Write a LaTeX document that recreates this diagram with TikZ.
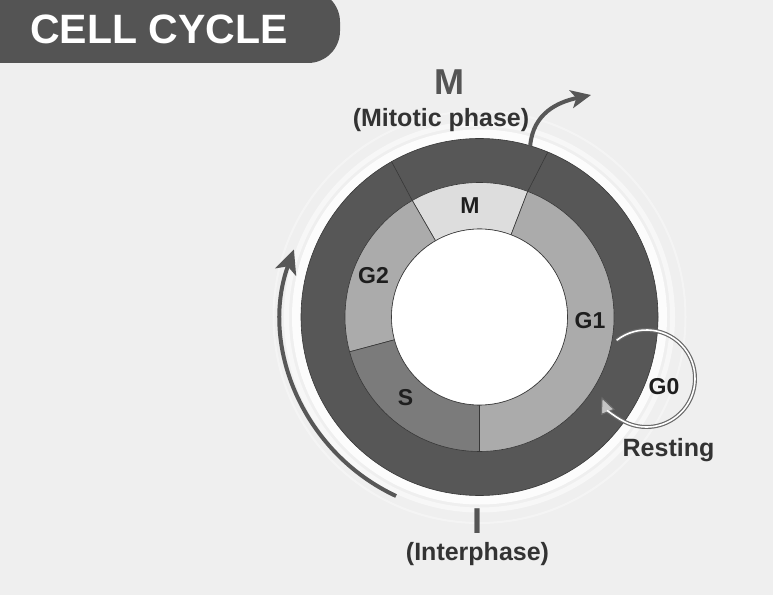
\documentclass[tikz,border=0pt]{standalone}
\usepackage{fontspec}
\setmainfont{Liberation Sans}
\usetikzlibrary{arrows.meta,calc}
\definecolor{bg}{HTML}{EFEFEF}
\definecolor{ringdark}{HTML}{575757}
\definecolor{bannerc}{HTML}{545454}
\definecolor{segG}{HTML}{ABABAB}
\definecolor{segM}{HTML}{DDDDDD}
\definecolor{segS}{HTML}{7B7B7B}
\definecolor{edge}{HTML}{383838}
\definecolor{txt}{HTML}{1E1E1E}
\definecolor{midtxt}{HTML}{333333}
\definecolor{bigtxt}{HTML}{555555}
\definecolor{loopc}{HTML}{6A6A6A}
\definecolor{loopfill}{HTML}{C4C4C4}
\newcommand\annseg[5]{%
  \path[fill=#1, draw=edge, line width=0.6pt]
    ($(C)+(#2:#4)$) arc[start angle=#2, end angle=#3, radius=#4]
    -- ($(C)+(#3:#5)$) arc[start angle=#3, end angle=#2, radius=#5] -- cycle;}
\tikzset{
  seglabel/.style={inner sep=0pt, text=txt, font=\fontsize{23}{23}\selectfont\bfseries},
  midlabel/.style={inner sep=0pt, anchor=base, text=midtxt, font=\fontsize{25}{25}\selectfont\bfseries},
  biglabel/.style={inner sep=0pt, anchor=base, text=bigtxt, font=\fontsize{36}{36}\selectfont\bfseries},
  arrowline/.style={draw=ringdark, line width=4pt},
}
\begin{document}
\begin{tikzpicture}[x=1pt,y=1pt]
\useasboundingbox (0,0) rectangle (773,595);
\fill[bg] (0,0) rectangle (773,595);
% banner
\fill[bannerc, rounded corners=32pt] (-40,532) rectangle (340,605);
\node[inner sep=0pt, anchor=base, text=white, font=\fontsize{41}{41}\selectfont\bfseries] (title) at (159,551) {CELL CYCLE};

\coordinate (C) at (479.5,278);
% halo
\draw[white, opacity=0.85, line width=9pt] (C) circle[radius=183pt];
\draw[white, opacity=0.5, line width=5pt] (C) circle[radius=193pt];
\draw[white, opacity=0.35, line width=2pt] (C) circle[radius=206pt];

% outer ring
\fill[ringdark] (C) circle[radius=178.5pt];
\draw[edge, line width=0.6pt] (C) circle[radius=178.5pt];
% middle ring segments
\annseg{segM}{69}{120}{88pt}{134.5pt}
\annseg{segG}{120}{195}{88pt}{134.5pt}
\annseg{segS}{195}{270}{88pt}{134.5pt}
\annseg{segG}{270}{429}{88pt}{134.5pt}
% outer ring dividers
\draw[edge, line width=0.6pt] ($(C)+(69:134.5pt)$) -- ($(C)+(67.5:178.5pt)$);
\draw[edge, line width=0.6pt] ($(C)+(120:134.5pt)$) -- ($(C)+(119.5:178.5pt)$);
% inner white
\draw[edge, fill=white, line width=0.6pt] (C) circle[radius=88pt];

% labels in ring
\node[seglabel] (lM) at (470,389) {M};
\node[seglabel] (lG2) at (373.5,319) {G2};
\node[seglabel] (lG1) at (590,274.5) {G1};
\node[seglabel] (lS) at (405.5,197.5) {S};

% top arrow
\coordinate (ta) at ($(C)+(73.5:178.5pt)$);
\coordinate (tb) at (591,500);
\draw[arrowline, -{Stealth[length=20pt,width=18pt,inset=5pt]}] (ta) .. controls (533,482) and (558,493) .. (tb);

% left arrow
\coordinate (la) at ($(C)+(245:197.5pt)$);
\draw[arrowline, -{Stealth[length=24pt,width=22pt,inset=6pt]}] (la) arc[start angle=245, end angle=160, radius=197.5pt];

% G0 loop
\coordinate (G0c) at (646.5,216.5);
\coordinate (gs) at ($(G0c)+(128:48.5pt)$);
\draw[loopc, line width=4pt, -{Triangle[length=17pt,width=15pt,line width=1.1pt,fill=loopfill]}] (gs) arc[start angle=128, end angle=-158, radius=48.5pt];
\draw[white, line width=1.6pt, shorten >=16pt] (gs) arc[start angle=128, end angle=-158, radius=48.5pt];

\node[seglabel] (lG0) at (664,208) {G0};
\node[midlabel] (lRest) at (668.5,139) {Resting};

% outer labels
\node[biglabel] (bigM) at (449.5,500) {M};
\node[midlabel] (mit) at (441,468) {(Mitotic phase)};
\node[biglabel] (bigI) at (477,61.5) {I};
\node[midlabel] (inter) at (477.5,35) {(Interphase)};
\end{tikzpicture}
\end{document}
